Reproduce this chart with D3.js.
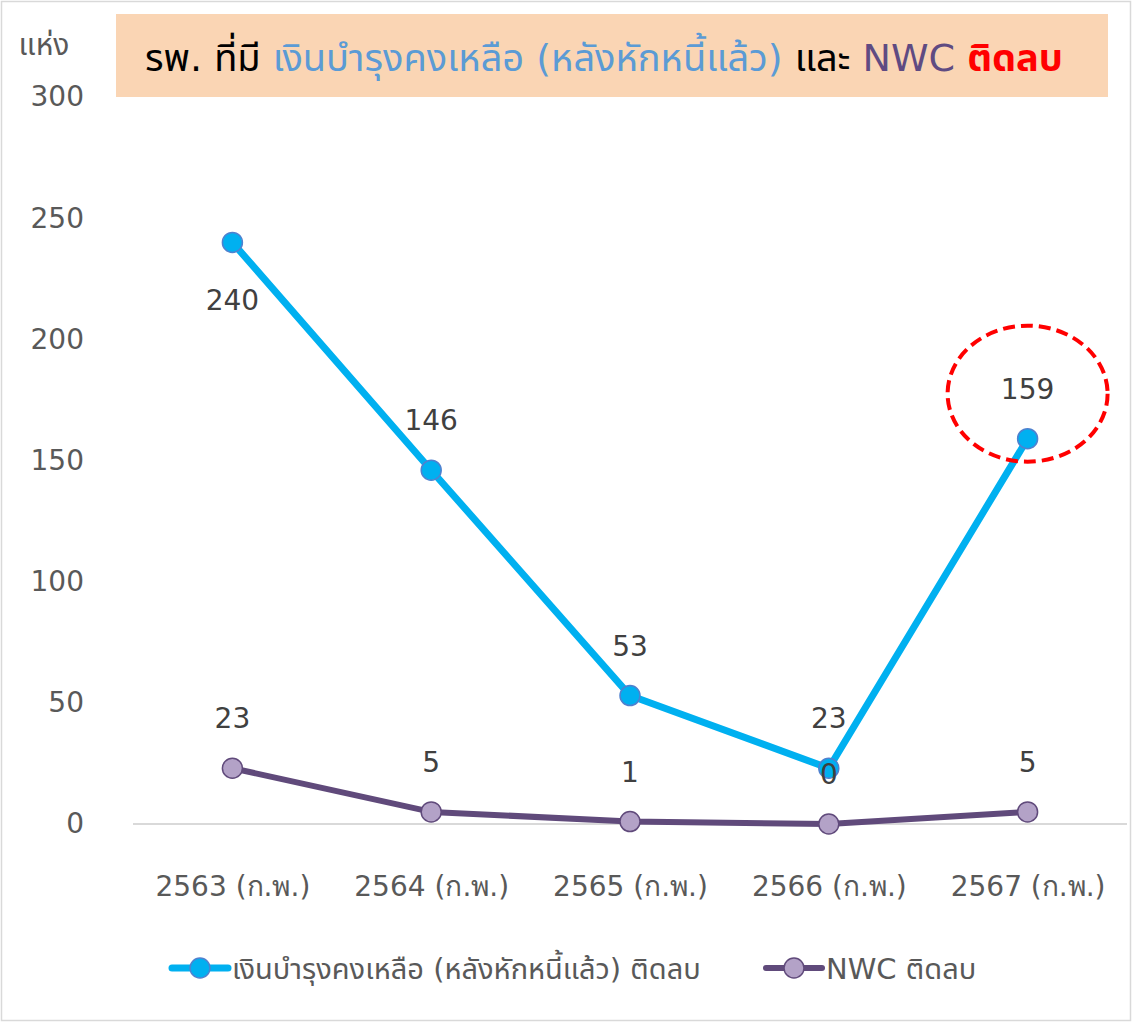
<!DOCTYPE html>
<html>
<head>
<meta charset="utf-8">
<script src="https://cdn.jsdelivr.net/npm/d3@7"></script>
<style>
  body { margin: 0; background: #fff; }
  svg { font-family: "DejaVu Sans", "Noto Sans Thai", "Noto Sans", sans-serif; }
</style>
</head>
<body>
<div id="chart"></div>
<script>
// categories and series
var years = ['2563 (ก.พ.)', '2564 (ก.พ.)', '2565 (ก.พ.)', '2566 (ก.พ.)', '2567 (ก.พ.)']
var fundNegative = [240, 146, 53, 23, 159]
var nwcNegative = [23, 5, 1, 0, 5]
var yTicks = [0, 50, 100, 150, 200, 250, 300]
var seriesNames = ['เงินบำรุงคงเหลือ (หลังหักหนี้แล้ว) ติดลบ', 'NWC ติดลบ']

var width = 1132
var height = 1022
var margin = { top: 97, right: 5, bottom: 198, left: 133 }

var svg = d3.select('#chart')
  .append('svg')
  .attr('width', width)
  .attr('height', height)

// outer frame
svg.append('rect')
  .attr('x', 1.5).attr('y', 1.5)
  .attr('width', width - 3).attr('height', height - 3)
  .style('fill', 'none')
  .style('stroke', '#d9d9d9')
  .style('stroke-width', 1.5)

var xScale = d3.scalePoint()
  .domain(years)
  .range([margin.left, width - margin.right])
  .padding(0.5)

var yScale = d3.scaleLinear()
  .domain([0, 300])
  .range([height - margin.bottom, margin.top])

// Y axis
var yAxis = d3.axisLeft(yScale)
  .tickValues(yTicks)
  .tickSize(0)
  .tickPadding(0)

svg.append('g')
  .attr('class', 'y-axis')
  .attr('transform', 'translate(84,0)')
  .call(yAxis)
  .call(g => g.select('.domain').remove())
  .selectAll('text')
  .style('font-family', '"DejaVu Sans", sans-serif')
  .style('font-size', '28px')
  .style('fill', '#595959')

// baseline
svg.append('line')
  .attr('x1', margin.left).attr('x2', width - margin.right)
  .attr('y1', yScale(0)).attr('y2', yScale(0))
  .style('stroke', '#d9d9d9')
  .style('stroke-width', 2)

// X axis
var xAxis = d3.axisBottom(xScale).tickSize(0).tickPadding(0)
svg.append('g')
  .attr('class', 'x-axis')
  .attr('transform', `translate(0,${yScale(0) + 52})`)
  .call(xAxis)
  .call(g => g.select('.domain').remove())
  .selectAll('text')
  .style('font-family', '"DejaVu Sans", sans-serif')
  .style('font-size', '28px')
  .style('fill', '#595959')

// unit label
svg.append('text')
  .text('แห่ง')
  .attr('x', 44).attr('y', 55)
  .style('text-anchor', 'middle')
  .style('font-size', '30px')
  .style('fill', '#595959')

// title box
svg.append('rect')
  .attr('x', 116).attr('y', 14)
  .attr('width', 992).attr('height', 83)
  .style('fill', '#fad5b4')

var title = svg.append('text')
  .attr('x', 604).attr('y', 71)
  .style('text-anchor', 'middle')
  .style('font-size', '38px')
title.append('tspan').text('รพ. ที่มี ').style('fill', '#000')
title.append('tspan').text('เงินบำรุงคงเหลือ (หลังหักหนี้แล้ว)').style('fill', '#5b9bd5')
title.append('tspan').text(' และ ').style('fill', '#000')
title.append('tspan').text('NWC ').style('fill', '#5f4b82')
title.append('tspan').text('ติดลบ').style('fill', '#ff0000').style('font-weight', 'bold')

var lineDraw = d3.line()
  .x((d, i) => xScale(years[i]))
  .y(d => yScale(d))

var series = [
  { values: fundNegative, stroke: '#00b0f0', fill: '#00b0f0', ring: '#4f81cf', width: 7 },
  { values: nwcNegative, stroke: '#604a7b', fill: '#b3a2c7', ring: '#604a7b', width: 6 }
]

series.forEach(function(s) {
  svg.append('path')
    .datum(s.values)
    .attr('d', lineDraw)
    .style('fill', 'none')
    .style('stroke', s.stroke)
    .style('stroke-width', s.width)
    .style('stroke-linejoin', 'round')
})

series.forEach(function(s) {
  svg.selectAll(null)
    .data(s.values)
    .enter()
    .append('circle')
    .attr('cx', (d, i) => xScale(years[i]))
    .attr('cy', d => yScale(d))
    .attr('r', 10)
    .style('fill', s.fill)
    .style('stroke', s.ring)
    .style('stroke-width', 1.5)
})

// data labels above the points; the top one sits below its point, as in the original
series.forEach(function(s) {
  var top = d3.max(s.values)
  svg.selectAll(null)
    .data(s.values)
    .enter()
    .append('text')
    .text(d => d)
    .attr('x', (d, i) => xScale(years[i]))
    .attr('y', function(d) {
      var y = yScale(d)
      return (d === top && d > 200) ? y + 68 : y - 40
    })
    .style('text-anchor', 'middle')
    .style('font-family', '"DejaVu Sans", sans-serif')
    .style('font-size', '28px')
    .style('fill', '#404040')
})

// red dashed ring around the last point
var last = years.length - 1
svg.append('ellipse')
  .attr('cx', xScale(years[last]))
  .attr('cy', yScale(fundNegative[last]) - 45)
  .attr('rx', 80)
  .attr('ry', 68)
  .style('fill', 'none')
  .style('stroke', '#ff0000')
  .style('stroke-width', 4)
  .style('stroke-dasharray', '12,6')

// legend
var legend = svg.append('g').attr('transform', 'translate(0,968)')
var legendX = [172, 766]
series.forEach(function(s, i) {
  var g = legend.append('g').attr('transform', `translate(${legendX[i]},0)`)
  g.append('line')
    .attr('x1', 0).attr('x2', 56)
    .style('stroke', s.stroke)
    .style('stroke-width', s.width)
    .style('stroke-linecap', 'round')
  g.append('circle')
    .attr('cx', 28).attr('r', 10)
    .style('fill', s.fill)
    .style('stroke', s.ring)
    .style('stroke-width', 1.5)
  g.append('text')
    .text(seriesNames[i])
    .attr('x', 60).attr('y', 11)
    .style('font-size', '29px')
    .style('fill', '#595959')
})
</script>
</body>
</html>
